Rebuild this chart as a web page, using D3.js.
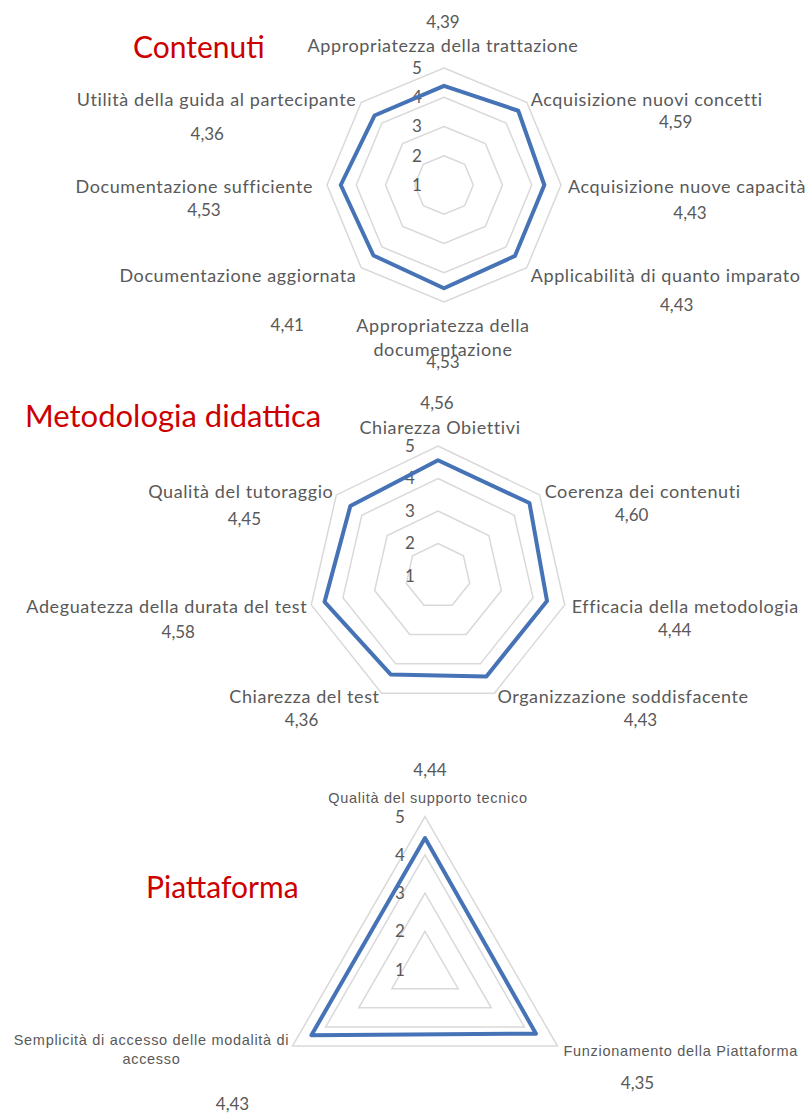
<!DOCTYPE html>
<html>
<head>
<meta charset="utf-8">
<script src="https://cdn.jsdelivr.net/npm/d3@7"></script>
<style>
  body { margin: 0; background: #fff; }
  .ring { fill: none; stroke: #d9d9d9; stroke-width: 1.5; }
  .series { fill: none; stroke: #4673b6; stroke-width: 4; stroke-linejoin: round; }
  .cat, .val, .tick { fill: #595959; font-family: Lato, sans-serif; }
  .title { fill: #cc0000; font-family: Lato, sans-serif; font-size: 30px; }
</style>
</head>
<body>
<div id="chart"></div>
<script>
const tickValues = [1, 2, 3, 4, 5]

const contenutiCategories = [
  'Appropriatezza della trattazione',
  'Acquisizione nuovi concetti',
  'Acquisizione nuove capacità',
  'Applicabilità di quanto imparato',
  'Appropriatezza della documentazione',
  'Documentazione aggiornata',
  'Documentazione sufficiente',
  'Utilità della guida al partecipante'
]
const contenutiValues = [4.39, 4.59, 4.43, 4.43, 4.53, 4.41, 4.53, 4.36]

const metodologiaCategories = [
  'Chiarezza Obiettivi',
  'Coerenza dei contenuti',
  'Efficacia della metodologia',
  'Organizzazione soddisfacente',
  'Chiarezza del test',
  'Adeguatezza della durata del test',
  'Qualità del tutoraggio'
]
const metodologiaValues = [4.56, 4.60, 4.44, 4.43, 4.36, 4.58, 4.45]

const piattaformaCategories = [
  'Qualità del supporto tecnico',
  'Funzionamento della Piattaforma',
  'Semplicità di accesso delle modalità di accesso'
]
const piattaformaValues = [4.44, 4.35, 4.43]

const width = 810
const height = 1113

const fmt = d3.formatLocale({ decimal: ',', thousands: '.', grouping: [3], currency: ['€', ''] }).format('.2f')

const svg = d3.select('#chart').append('svg')
  .attr('width', width)
  .attr('height', height)

// label offsets from each outer vertex: [dx, dy, anchor, wrapWidth], value offsets [dx, dy]
const charts = [
  {
    title: 'Contenuti', titlePos: [133, 58], titleSize: 30,
    categories: contenutiCategories, values: contenutiValues,
    cx: 444, cy: 185, radius: 117, catSize: 18, spacing: 0.6, tickDx: -27,
    labels: [[-1, -22, 'middle'], [4, -3, 'start'], [7, 2, 'start'], [4, 8, 'start'],
             [-1, 24, 'middle', 220], [-5, 8, 'end'], [-14, 2, 'end'], [-5, -3, 'end']],
    valuePos: [[-1, -46], [149, 20], [129, 28], [150, 37], [-1, 60], [-74, 57], [-123, 25], [-154, 32]]
  },
  {
    title: 'Metodologia didattica', titlePos: [25, 427], titleSize: 31,
    categories: metodologiaCategories, values: metodologiaValues,
    cx: 438, cy: 576, radius: 130, catSize: 18, spacing: 0.6, tickDx: -28,
    labels: [[2, -18, 'middle'], [5, -3, 'start'], [7, 2, 'start'], [3, 4, 'start'],
             [-2, 4, 'end'], [-4, 2, 'end'], [-3, -3, 'end']],
    valuePos: [[-1, -43], [92, 20], [110, 25], [146, 27], [-80, 27], [-133, 27], [-92, 24]]
  },
  {
    title: 'Piattaforma', titlePos: [146, 898], titleSize: 30,
    categories: piattaformaCategories, values: piattaformaValues,
    cx: 425, cy: 969.6, radius: 153, catSize: 14.5, spacing: 0.7, catFont: '"Liberation Sans", Arial, sans-serif', tickDx: -25,
    labels: [[3, -19, 'middle'], [6, 5, 'start'], [-141, -6, 'middle', 290]],
    valuePos: [[5, -47], [80, 37], [-60, 58]]
  }
]

function wrapText(text, maxWidth, lineHeight) {
  const words = text.text().split(' ')
  const x = text.attr('x')
  text.text(null)
  let line = []
  let tspan = text.append('tspan').attr('x', x)
  words.forEach(w => {
    line.push(w)
    tspan.text(line.join(' '))
    if (tspan.node().getComputedTextLength() > maxWidth && line.length > 1) {
      line.pop()
      tspan.text(line.join(' '))
      line = [w]
      tspan = text.append('tspan').attr('x', x).attr('dy', lineHeight).text(w)
    }
  })
}

charts.forEach(c => {
  const n = c.categories.length
  const angle = d3.scaleLinear().domain([0, n]).range([0, 2 * Math.PI])
  const r = d3.scaleLinear().domain([1, 5]).range([0, c.radius])
  const pt = (i, v) => [c.cx + r(v) * Math.sin(angle(i)), c.cy - r(v) * Math.cos(angle(i))]
  const idx = d3.range(n)

  const g = svg.append('g')

  svg.append('text')
    .attr('class', 'title')
    .attr('x', c.titlePos[0])
    .attr('y', c.titlePos[1])
    .style('font-size', c.titleSize + 'px')
    .text(c.title)

  const line = d3.line().curve(d3.curveLinearClosed)

  g.selectAll('.ring')
    .data(tickValues.slice(1))
    .join('path')
    .attr('class', 'ring')
    .attr('d', t => line(idx.map(i => pt(i, t))))

  g.selectAll('.tick')
    .data(tickValues)
    .join('text')
    .attr('class', 'tick')
    .attr('x', c.cx + c.tickDx)
    .attr('y', t => c.cy - r(t))
    .attr('dy', '0.35em')
    .attr('text-anchor', 'middle')
    .style('font-size', '17px')
    .text(t => t)

  g.append('path')
    .attr('class', 'series')
    .attr('d', line(c.values.map((v, i) => pt(i, v))))

  g.selectAll('.cat')
    .data(c.categories)
    .join('text')
    .attr('class', 'cat')
    .attr('x', (d, i) => pt(i, 5)[0] + c.labels[i][0])
    .attr('y', (d, i) => pt(i, 5)[1] + c.labels[i][1])
    .attr('dy', '0.35em')
    .attr('text-anchor', (d, i) => c.labels[i][2])
    .style('font-size', c.catSize + 'px')
    .style('letter-spacing', c.spacing + 'px')
    .style('font-family', c.catFont || null)
    .text(d => d)
    .each(function(d, i) {
      if (c.labels[i][3]) wrapText(d3.select(this), c.labels[i][3], c.catSize * 1.3)
    })

  g.selectAll('.val')
    .data(c.values)
    .join('text')
    .attr('class', 'val')
    .attr('x', (d, i) => pt(i, 5)[0] + c.valuePos[i][0])
    .attr('y', (d, i) => pt(i, 5)[1] + c.valuePos[i][1])
    .attr('dy', '0.35em')
    .attr('text-anchor', 'middle')
    .style('font-size', '17px')
    .text(d => fmt(d))
})
</script>
</body>
</html>
